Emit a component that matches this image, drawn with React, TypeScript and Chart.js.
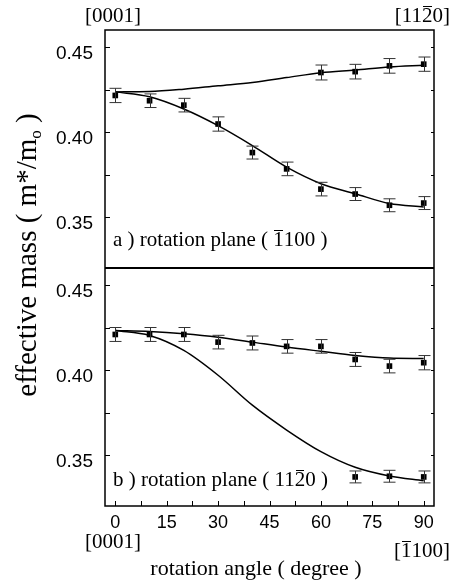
import React, { useEffect, useRef } from "react";
import { Chart, registerables } from "chart.js";

Chart.register(...registerables);

// ---- data ----
const curveAngles = [0, 10, 20, 30, 40, 50, 60, 70, 80, 90];

// panel a: rotation plane (-1100)
const aUpperAngles = [60, 70, 80, 90];
const aUpperValues = [0.435, 0.4355, 0.4389, 0.4399];
const aUpperErrors = [0.0044, 0.0043, 0.0043, 0.0042];
const aLowerAngles = [0, 10, 20, 30, 40, 50, 60, 70, 80, 90];
const aLowerValues = [0.4215, 0.4184, 0.4158, 0.4047, 0.3879, 0.3783, 0.3664, 0.3635, 0.3569, 0.3582];
const aLowerErrors = [0.0042, 0.0040, 0.0040, 0.0042, 0.0038, 0.0040, 0.0040, 0.0038, 0.0038, 0.0038];
const aUpperCurve = [0.4236, 0.4238, 0.4252, 0.4272, 0.4291, 0.432, 0.4349, 0.4365, 0.4383, 0.4393];
const aLowerCurve = [0.4236, 0.4207, 0.4135, 0.4037, 0.392, 0.3793, 0.3696, 0.3637, 0.3579, 0.3559];

// panel b: rotation plane (11-20)
const bUpperAngles = [0, 10, 20, 30, 40, 50, 60, 70, 80, 90];
const bUpperValues = [0.4209, 0.4209, 0.4209, 0.4164, 0.4159, 0.4139, 0.4139, 0.4062, 0.4023, 0.4043];
const bUpperErrors = [0.0041, 0.0041, 0.0041, 0.0040, 0.0041, 0.0040, 0.0040, 0.0041, 0.0040, 0.0042];
const bLowerAngles = [70, 80, 90];
const bLowerValues = [0.3371, 0.3375, 0.3371];
const bLowerErrors = [0.0035, 0.0035, 0.0035];
const bUpperCurve = [0.4232, 0.4226, 0.4213, 0.4193, 0.4164, 0.4135, 0.411, 0.4086, 0.407, 0.4067];
const bLowerCurve = [0.4232, 0.4203, 0.4115, 0.3969, 0.3793, 0.3647, 0.352, 0.3428, 0.3377, 0.3349];

// ticks
const yTickLabels = [0.35, 0.4, 0.45];
const yTickMarks = [0.35, 0.375, 0.4, 0.425, 0.45];
const xTickLabels = [0, 15, 30, 45, 60, 75, 90];
const xTickMarks = [0, 7.5, 15, 22.5, 30, 37.5, 45, 52.5, 60, 67.5, 75, 82.5, 90];

const pts = (xs: number[], ys: number[]) => xs.map((x, i) => ({ x, y: ys[i] }));

const curveDs = (data: number[], axis: string) => ({
  data: pts(curveAngles, data),
  yAxisID: axis,
  showLine: true,
  borderColor: "#000",
  borderWidth: 1.5,
  pointRadius: 0,
  cubicInterpolationMode: "monotone",
  fill: false,
});

const pointDs = (xs: number[], ys: number[], errs: number[], axis: string) => ({
  data: pts(xs, ys),
  errors: errs,
  yAxisID: axis,
  showLine: false,
  pointStyle: "rect",
  pointRadius: 4,
  backgroundColor: "#000",
  borderColor: "#000",
  borderWidth: 0,
});

const errorBarPlugin = {
  id: "errorBars",
  afterDatasetsDraw(chart: any) {
    const ctx = chart.ctx;
    chart.data.datasets.forEach((ds: any, i: number) => {
      if (!ds.errors) return;
      const meta = chart.getDatasetMeta(i);
      const ys = chart.scales[ds.yAxisID];
      ctx.save();
      ctx.strokeStyle = "#333";
      ctx.lineWidth = 1;
      meta.data.forEach((el: any, j: number) => {
        const v = ds.data[j].y;
        const e = ds.errors[j];
        const x = Math.round(el.x) + 0.5;
        const t = ys.getPixelForValue(v + e);
        const b = ys.getPixelForValue(v - e);
        ctx.beginPath();
        ctx.moveTo(x, t);
        ctx.lineTo(x, b);
        ctx.moveTo(x - 6, t);
        ctx.lineTo(x + 6, t);
        ctx.moveTo(x - 6, b);
        ctx.lineTo(x + 6, b);
        ctx.stroke();
      });
      ctx.restore();
    });
  },
};

const framePlugin = {
  id: "frame",
  afterDraw(chart: any) {
    const { ctx, chartArea: ca, scales } = chart;
    const yA = scales.yA;
    const yB = scales.yB;
    const xs = scales.x;
    ctx.save();
    ctx.strokeStyle = "#000";
    ctx.lineWidth = 1.5;
    ctx.strokeRect(ca.left, ca.top, ca.right - ca.left, ca.bottom - ca.top);
    const sep = Math.min(yA.bottom, yB.bottom);
    ctx.lineWidth = 2;
    ctx.beginPath();
    ctx.moveTo(ca.left, sep);
    ctx.lineTo(ca.right, sep);
    ctx.stroke();
    ctx.lineWidth = 1;
    for (const s of [yA, yB]) {
      for (const v of yTickMarks) {
        const p = Math.round(s.getPixelForValue(v)) + 0.5;
        ctx.beginPath();
        ctx.moveTo(ca.left, p);
        ctx.lineTo(ca.left + 5, p);
        ctx.moveTo(ca.right, p);
        ctx.lineTo(ca.right - 3, p);
        ctx.stroke();
      }
    }
    for (const v of xTickMarks) {
      const p = Math.round(xs.getPixelForValue(v)) + 0.5;
      ctx.beginPath();
      ctx.moveTo(p, ca.bottom);
      ctx.lineTo(p, ca.bottom - 5);
      ctx.stroke();
    }
    ctx.restore();
  },
};

const yScale = (stackOrder: number) => ({
  type: "linear",
  position: "left",
  stack: "panels",
  stackWeight: 1,
  weight: stackOrder,
  min: 0.32,
  max: 0.46,
  grid: { display: false, drawTicks: false },
  border: { display: false },
  afterBuildTicks: (s: any) => {
    s.ticks = yTickLabels.map((v) => ({ value: v }));
  },
  afterFit: (s: any) => {
    s.width = 105;
  },
  ticks: {
    padding: 12,
    labelOffset: 7,
    color: "#000",
    font: { size: 19, family: '"Liberation Sans", Arial, sans-serif' },
    callback: (v: any) => Number(v).toFixed(2),
  },
});

function Bar({ children }: { children: React.ReactNode }) {
  return (
    <span style={{ position: "relative", display: "inline-block" }}>
      {children}
      <span
        style={{
          position: "absolute",
          left: 1,
          right: 1,
          top: "0.06em",
          borderTop: "1.5px solid #000",
        }}
      />
    </span>
  );
}

export default function App() {
  const ref = useRef<HTMLCanvasElement>(null);
  useEffect(() => {
    if (!ref.current) return;
    const chart = new Chart(ref.current, {
      type: "scatter",
      data: {
        datasets: [
          curveDs(aUpperCurve, "yA"),
          curveDs(aLowerCurve, "yA"),
          pointDs(aUpperAngles, aUpperValues, aUpperErrors, "yA"),
          pointDs(aLowerAngles, aLowerValues, aLowerErrors, "yA"),
          curveDs(bUpperCurve, "yB"),
          curveDs(bLowerCurve, "yB"),
          pointDs(bUpperAngles, bUpperValues, bUpperErrors, "yB"),
          pointDs(bLowerAngles, bLowerValues, bLowerErrors, "yB"),
        ] as any,
      },
      options: {
        responsive: false,
        animation: false,
        devicePixelRatio: 1,
        layout: { padding: { top: 30, right: 22, left: 0, bottom: 0 } },
        plugins: { legend: { display: false }, tooltip: { enabled: false }, title: { display: false } },
        scales: {
          x: {
            type: "linear",
            position: "bottom",
            min: -3,
            max: 93,
            grid: { display: false, drawTicks: false },
            border: { display: false },
            afterBuildTicks: (s: any) => {
              s.ticks = xTickLabels.map((v) => ({ value: v }));
            },
            afterFit: (s: any) => {
              s.height = 82;
            },
            ticks: {
              padding: 6,
              color: "#000",
              maxRotation: 0,
              font: { size: 18, family: '"Liberation Sans", Arial, sans-serif' },
            },
          },
          yB: yScale(0),
          yA: yScale(1),
        } as any,
      },
      plugins: [errorBarPlugin, framePlugin],
    } as any);
    return () => chart.destroy();
  }, []);

  const serif = '"Liberation Serif", "Times New Roman", serif';
  const abs = (o: React.CSSProperties): React.CSSProperties => ({
    position: "absolute",
    whiteSpace: "nowrap",
    fontFamily: serif,
    color: "#000",
    ...o,
  });

  return (
    <div style={{ position: "absolute", left: 0, top: 0, width: 456, height: 588, background: "#fff", overflow: "hidden" }}>
      <canvas ref={ref} width={456} height={588} style={{ position: "absolute", left: 0, top: 0, width: 456, height: 588 }} />
      <div style={abs({ left: 85, top: 5, fontSize: 21, lineHeight: "21px" })}>[0001]</div>
      <div style={abs({ right: 6, top: 5, fontSize: 21, lineHeight: "21px" })}>
        [11<Bar>2</Bar>0]
      </div>
      <div style={abs({ left: 85, top: 531, fontSize: 21, lineHeight: "21px" })}>[0001]</div>
      <div style={abs({ right: 6, top: 540, fontSize: 21, lineHeight: "21px" })}>
        [<Bar>1</Bar>100]
      </div>
      <div style={abs({ left: 56, width: 400, textAlign: "center", top: 557, fontSize: 22, lineHeight: "22px" })}>
        rotation angle ( degree )
      </div>
      <div style={abs({ left: 113, top: 229, fontSize: 21, lineHeight: "21px" })}>
        a ) rotation plane ( <Bar>1</Bar>100 )
      </div>
      <div style={abs({ left: 113, top: 469, fontSize: 21, lineHeight: "21px" })}>
        b ) rotation plane ( 11<Bar>2</Bar>0 )
      </div>
      <div
        style={abs({
          left: 31 - 200,
          top: 250 - 14.5,
          width: 400,
          textAlign: "center",
          fontSize: 29,
          lineHeight: "29px",
          transform: "rotate(-90deg)",
          transformOrigin: "50% 50%",
        })}
      >
        effective mass ( m*/m<sub style={{ fontSize: 17, verticalAlign: "-5px" }}>o</sub> )
      </div>
    </div>
  );
}
